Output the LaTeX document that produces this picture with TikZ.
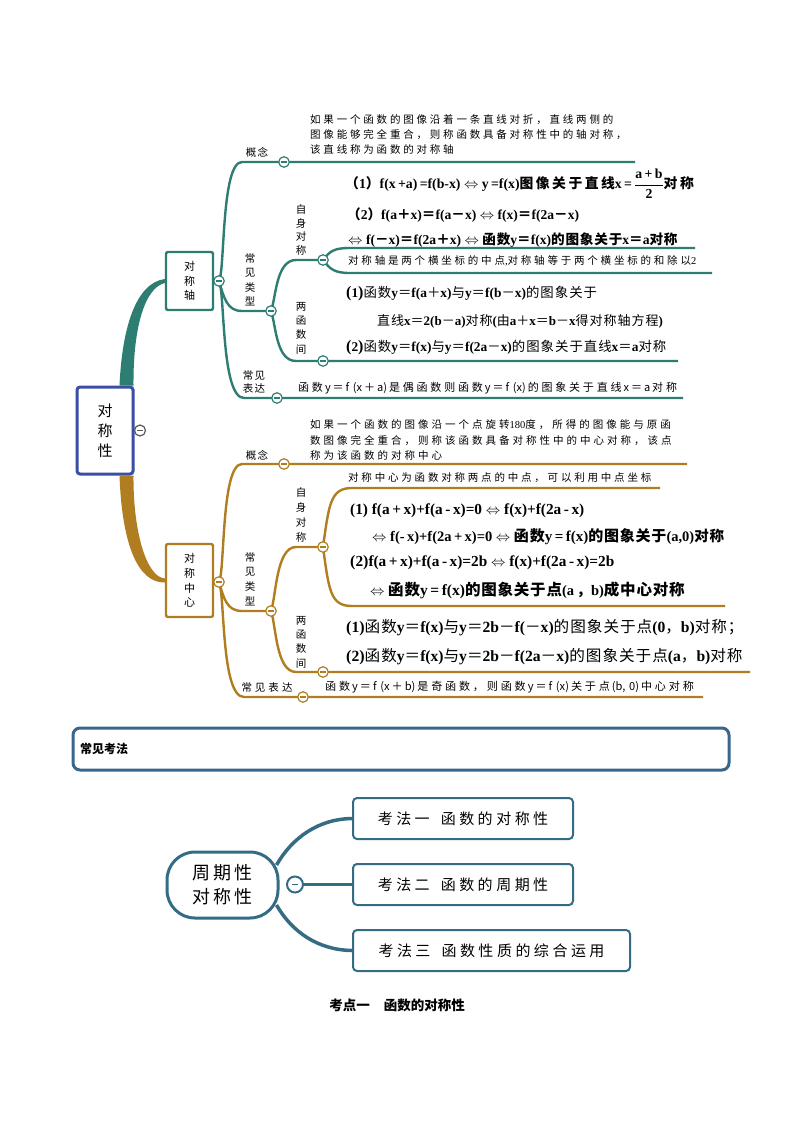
\documentclass[tikz,border=0pt]{standalone}
\usepackage{fontspec}
\setmainfont{Liberation Serif}
\newfontfamily\latinfont{Liberation Serif}
\newfontfamily\cjk{Noto Sans CJK SC}
\usetikzlibrary{calc}
% automatic font switching for CJK characters
\newXeTeXintercharclass\cjkclass
\newcount\cjkcnt
\def\setcjkrange#1#2{\cjkcnt=#1\relax\loop\XeTeXcharclass\cjkcnt=\cjkclass\relax\ifnum\cjkcnt<#2\relax\advance\cjkcnt by 1\relax\repeat}
\setcjkrange{"3000}{"303F}
\setcjkrange{"4E00}{"9FFF}
\setcjkrange{"FF00}{"FFEF}
\newdimen\cjkgapamt
\newdimen\xgapamt
\def\cjkgap{\hskip\cjkgapamt\relax}
\def\xgap{\hskip\xgapamt\relax}
\def\setgap#1{\cjkgapamt=#1\relax}
\def\cjkser{}\def\latser{}
\def\tocjk{\cjk\cjkser}
\def\tolat{\latinfont\latser}
\XeTeXinterchartoks 0 \cjkclass = {\tocjk\xgap}
\XeTeXinterchartoks 4095 \cjkclass = {\tocjk}
\XeTeXinterchartoks \cjkclass 0 = {\tolat\xgap}
\XeTeXinterchartoks \cjkclass 4095 = {\tolat}
\XeTeXinterchartoks \cjkclass \cjkclass = {\cjkgap}
\XeTeXinterchartokenstate=1
\def\mixcjk{\def\cjkser{\mdseries}\def\latser{\bfseries}}
\def\bp#1{{\fontsize{16}{16}\selectfont(}#1{\fontsize{16}{16}\selectfont)}}
\def\lr{$\Leftrightarrow$}
\definecolor{tl}{RGB}{46,125,115}
\definecolor{gd}{RGB}{176,126,32}
\definecolor{rb}{RGB}{58,78,165}
\definecolor{hb}{RGB}{58,102,140}
\definecolor{mb}{RGB}{52,108,132}
\tikzset{
  btn/.style={circle, draw=#1, fill=white, minimum size=10.5pt, inner sep=0pt, line width=1.2pt,
    path picture={\draw[#1, line width=1.2pt] ([xshift=-2.8pt]path picture bounding box.center) -- ([xshift=2.8pt]path picture bounding box.center);}},
  br/.style={draw=#1, line width=2.4pt},
  lbl/.style={inner sep=0pt, font={\fontsize{10.5}{13.5}\selectfont\setgap{1.5pt}}},
  note/.style={anchor=west, inner sep=0pt, font={\fontsize{10.5}{15}\selectfont\setgap{2.8pt}}},
  expr/.style={anchor=west, inner sep=0pt, font={\fontsize{#1}{15}\selectfont\setgap{2.8pt}\xgapamt=2pt\relax\def\tolat{}}},
  fm/.style={anchor=west, inner sep=0pt, font={\fontsize{#1}{15}\selectfont\bfseries\setgap{0.8pt}}},
  mx/.style={anchor=west, inner sep=0pt, font={\fontsize{#1}{15}\selectfont\bfseries\mixcjk\setgap{1pt}}},
  kf/.style={draw=mb, line width=2pt, rounded corners=4pt, fill=white, inner sep=0pt, minimum height=41pt, font={\fontsize{15}{18}\selectfont\setgap{3.5pt}}},
}
\begin{document}
\begin{tikzpicture}[x=1pt,y=-1pt]
\fill[white] (0,0) rectangle (794,1123);
\useasboundingbox (0,0) rectangle (794,1123);

% ---------- root and second level boxes
\node[draw=rb, line width=3pt, rounded corners=3pt, minimum width=56pt, minimum height=87pt, inner sep=0pt, align=center, font={\fontsize{15}{20}\selectfont}] (root) at (105,430.5) {对\\称\\性};
\node[draw=tl, line width=2.4pt, rounded corners=2pt, minimum width=47pt, minimum height=58pt, inner sep=0pt, align=center, font={\fontsize{11}{14.5}\selectfont}] (axis) at (189.5,281) {对\\称\\轴};
\node[draw=gd, line width=2.4pt, rounded corners=2pt, minimum width=47pt, minimum height=73pt, inner sep=0pt, align=center, font={\fontsize{11}{14.7}\selectfont}] (cent) at (189.5,580.5) {对\\称\\中\\心};

% tapered connectors
\fill[tl] ($(root.north east)+(-15,0)$) .. controls (122,330) and (135,283) .. ($(axis.west)+(0,-2)$) -- ($(axis.west)+(0,2)$) .. controls (144,288) and (133,330) .. ($(root.north east)+(-1,0)$) -- cycle;
\fill[gd] ($(root.south east)+(-15,0)$) .. controls (122,545) and (138,583) .. ($(cent.west)+(0,2)$) -- ($(cent.west)+(0,-2)$) .. controls (146,577) and (133,530) .. ($(root.south east)+(-1,0)$) -- cycle;
\node[btn=black!65, minimum size=11pt] (rootb) at (140,430.5) {};

% ---------- teal branch
\coordinate (tc0) at (219,281);
\coordinate (tkc) at (284,162);
\coordinate (ttc) at (271,311);
\coordinate (tec) at (277,398);
\coordinate (tsc) at (323,260);
\coordinate (twc) at (323,361);
\coordinate (tkE) at (635,162);
\coordinate (teE) at (683,398);
\coordinate (twE) at (678,361);
\coordinate (tsE1) at (695,248);
\coordinate (tsE2) at (712,273);
\draw[br=tl] (tc0) .. controls (225,272) and (221,162) .. (242,162) -- (tkE);
\draw[br=tl] (tc0) .. controls (224,298) and (227,311) .. (242,311) -- (ttc);
\draw[br=tl] (tc0) .. controls (225,292) and (221,398) .. (244,398) -- (teE);
\draw[br=tl] (ttc) .. controls (276,298) and (276,260) .. (296,260) -- (tsc);
\draw[br=tl] (ttc) .. controls (276,325) and (276,361) .. (296,361) -- (twE);
\draw[br=tl] (tsc) .. controls (330,251) and (334,248) .. (350,248) -- (tsE1);
\draw[br=tl] (tsc) .. controls (330,269) and (334,273) .. (350,273) -- (tsE2);
\node[btn=tl] (tb0) at (tc0) {};
\node[btn=tl] (tbk) at (tkc) {};
\node[btn=tl] (tbt) at (ttc) {};
\node[btn=tl] (tbe) at (tec) {};
\node[btn=tl] (tbs) at (tsc) {};
\node[btn=tl] (tbw) at (twc) {};

\node[lbl] (tkl) at (257,152) {概念};
\node[lbl, align=center, font={\fontsize{10.5}{14.5}\selectfont}] (ttl) at (250,280) {常\\见\\类\\型};
\node[lbl, align=center, font={\fontsize{10.5}{13.5}\selectfont}] (tsl) at (301,230) {自\\身\\对\\称};
\node[lbl, align=center, font={\fontsize{10.5}{14.3}\selectfont}] (twl) at (301,328) {两\\函\\数\\间};
\node[lbl, align=center, font={\fontsize{10.5}{13}\selectfont\setgap{1.5pt}}] (tel) at (254,381.5) {常见\\表达};

\node[note, align=left] (tkn) at (310,135) {如果一个函数的图像沿着一条直线对折，直线两侧的\\图像能够完全重合，则称函数具备对称性中的轴对称，\\该直线称为函数的对称轴};
\node[anchor=west, inner sep=0pt, font={\fontsize{13.8}{15}\selectfont\bfseries\setgap{2.5pt}}] (tf1) at (345,184) {（1）f(x\,+a)\,=f(b-x) \lr{} y\,=f(x)图像关于直线x\,=\,$\displaystyle\frac{\mbox{a\,+\,b}}{\mbox{2}}$对称};
\node[fm=13.6] (tf2) at (347,215) {（2）f(a＋x)＝f(a－x) \lr{} f(x)＝f(2a－x)};
\node[fm=13.6] (tf3) at (348,240) {\lr{} f(－x)＝f(2a＋x) \lr{} 函数y＝f(x)的图象关于x＝a对称};
\node[note] (tsn) at (348,261) {对称轴是两个横坐标的中点,对称轴等于两个横坐标的和除以2};
\node[mx=13.4] (tw1) at (346,294) {\bp{1}函数y＝f(a＋x)与y＝f(b－x)的图象关于};
\node[mx=13] (tw2) at (377,321) {直线x＝2(b－a)对称(由a＋x＝b－x得对称轴方程)};
\node[mx=13.4] (tw3) at (346,348) {\bp{2}函数y＝f(x)与y＝f(2a－x)的图象关于直线x＝a对称};
\node[expr=11] (ten) at (298,388) {函数y＝f\,\,(x＋a)是偶函数则函数y＝f\,\,(x)的图象关于直线x＝a对称};

% ---------- gold branch
\coordinate (gc0) at (219,582);
\coordinate (gkc) at (284,464);
\coordinate (gtc) at (271,611);
\coordinate (gec) at (303,697);
\coordinate (gsc) at (323,547);
\coordinate (gwc) at (323,672);
\coordinate (gkE) at (687,464);
\coordinate (geE) at (703,697);
\coordinate (gwE) at (750,672);
\coordinate (gsE1) at (660,488);
\coordinate (gsE2) at (725,606);
\draw[br=gd] (gc0) .. controls (225,572) and (221,464) .. (242,464) -- (gkE);
\draw[br=gd] (gc0) .. controls (224,599) and (227,611) .. (242,611) -- (gtc);
\draw[br=gd] (gc0) .. controls (225,595) and (221,697) .. (244,697) -- (geE);
\draw[br=gd] (gtc) .. controls (276,598) and (276,547) .. (296,547) -- (gsc);
\draw[br=gd] (gtc) .. controls (276,625) and (276,672) .. (296,672) -- (gwE);
\draw[br=gd] (gsc) .. controls (329,505) and (330,488) .. (352,488) -- (gsE1);
\draw[br=gd] (gsc) .. controls (329,590) and (330,606) .. (352,606) -- (gsE2);
\node[btn=gd] (gb0) at (gc0) {};
\node[btn=gd] (gbk) at (gkc) {};
\node[btn=gd] (gbt) at (gtc) {};
\node[btn=gd] (gbe) at (gec) {};
\node[btn=gd] (gbs) at (gsc) {};
\node[btn=gd] (gbw) at (gwc) {};

\node[lbl] (gkl) at (257,455) {概念};
\node[lbl, align=center, font={\fontsize{10.5}{14.7}\selectfont}] (gtl) at (250,579) {常\\见\\类\\型};
\node[lbl, align=center, font={\fontsize{10.5}{14.7}\selectfont}] (gsl) at (301,515) {自\\身\\对\\称};
\node[lbl, align=center, font={\fontsize{10.5}{14.4}\selectfont}] (gwl) at (301,642) {两\\函\\数\\间};
\node[lbl, font={\fontsize{10.5}{13}\selectfont\setgap{3pt}}] (gel) at (267,687) {常见表达};

\node[note, align=left, font={\fontsize{10.5}{15.5}\selectfont\setgap{3pt}}] (gkn) at (310,440.5) {如果一个函数的图像沿一个点旋转180度，所得的图像能与原函\\数图像完全重合，则称该函数具备对称性中的中心对称，该点\\称为该函数的对称中心};
\node[note] (gsn) at (348,478) {对称中心为函数对称两点的中点，可以利用中点坐标};
\node[fm=15.3] (gf1) at (350,511) {(1) f(a\,+\,x)+f(a\,-\,x)=0 \lr{} f(x)+f(2a\,-\,x)};
\node[fm=14.5] (gf2) at (372,537) {\lr{} f(-\,x)+f(2a\,+\,x)=0 \lr{} {\fontsize{15}{15}\selectfont 函数y\,=\,f(x)的图象关于}(a,0)对称};
\node[fm=15.3] (gf3) at (350,563) {\bp{2}f(a\,+\,x)+f(a\,-\,x)=2b \lr{} f(x)+f(2a\,-\,x)=2b};
\node[fm=14.5] (gf4) at (370,590) {\lr{} {\fontsize{15.5}{15}\selectfont 函数y\,=\,f(x)的图象关于点}(a\,，b){\fontsize{15.5}{15}\selectfont 成中心对称}};
\node[mx=15.6] (gw1) at (346,628) {\bp{1}函数y＝f(x)与y＝2b－f(－x)的图象关于点(0，b)对称；};
\node[mx=15.6] (gw2) at (346,657) {\bp{2}函数y＝f(x)与y＝2b－f(2a－x)的图象关于点(a，b)对称};
\node[expr=11.1] (gen) at (325,687) {函数y＝f\,\,(x＋b)是奇函数，则函数y＝f\,\,(x)关于点(b,\,\,0)中心对称};

% ---------- section header
\node[draw=hb, line width=3pt, rounded corners=7pt, minimum width=656pt, minimum height=42pt, inner sep=0pt] (hdr) at (401,749) {};
\node[anchor=west, inner sep=0pt, font={\fontsize{12}{14}\selectfont\bfseries}] (hdrt) at (80,749) {常见考法};

% ---------- bottom mind map
\node[draw=mb, line width=3pt, rounded corners=28pt, minimum width=111pt, minimum height=66pt, inner sep=0pt, align=center, font={\fontsize{18}{24}\selectfont\setgap{3pt}}] (pc) at (222.5,885) {周期性\\对称性};
\node[kf, minimum width=220pt] (k1) at (463,818.5) {考法一\hspace{11pt}函数的对称性};
\node[kf, minimum width=220pt] (k2) at (463,884.5) {考法二\hspace{11pt}函数的周期性};
\node[kf, minimum width=277pt] (k3) at (491.5,950.5) {考法三\hspace{11pt}函数性质的综合运用};
\draw[mb, line width=3.5pt] ($(pc.east)+(-3,-20)$) .. controls (292,838) and (318,819) .. (k1.west);
\draw[mb, line width=3.5pt] ($(pc.east)+(-3,20)$) .. controls (292,932) and (318,950) .. (k3.west);
\node[btn=mb, minimum size=16pt, line width=2pt] (pcb) at (295,884.5) {};
\draw[mb, line width=3.5pt] (pcb) -- (k2.west);

\node[inner sep=0pt, font={\fontsize{13.5}{16}\selectfont\bfseries}] (cap) at (397,1005) {考点一\hspace{14pt}函数的对称性};
\end{tikzpicture}
\end{document}
